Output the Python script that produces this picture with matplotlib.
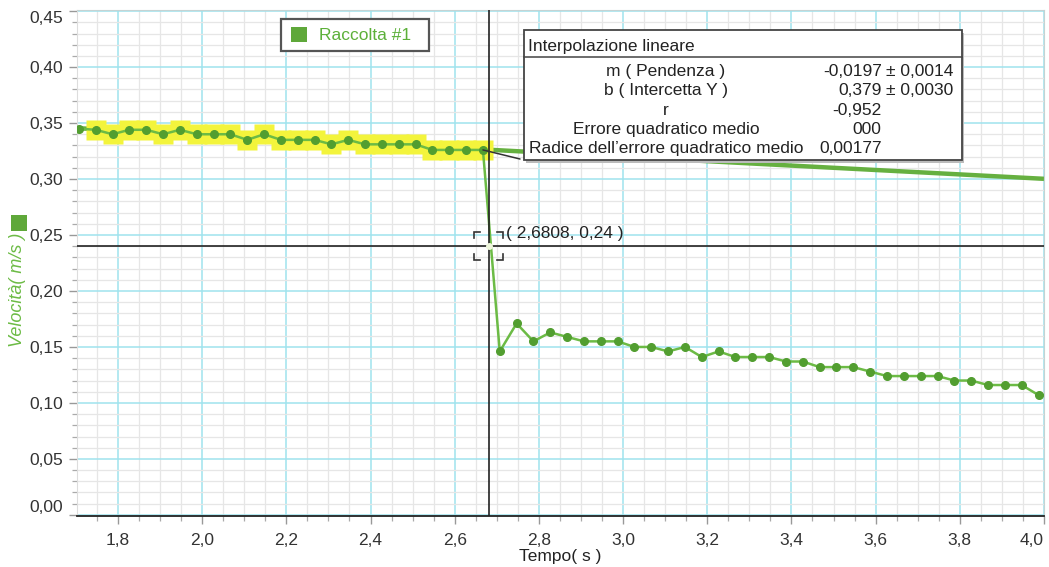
import matplotlib
matplotlib.use('Agg')
import matplotlib.pyplot as plt
from matplotlib.patches import Rectangle
from matplotlib.ticker import MultipleLocator, FuncFormatter

# dati
tempo = [1.707, 1.747, 1.787, 1.827, 1.867, 1.907, 1.947, 1.987, 2.027, 2.067,
         2.107, 2.147, 2.187, 2.227, 2.267, 2.307, 2.347, 2.387, 2.427, 2.467,
         2.507, 2.547, 2.587, 2.627, 2.667,
         2.707, 2.747, 2.787, 2.827, 2.867, 2.907, 2.947, 2.987, 3.027, 3.067,
         3.107, 3.147, 3.187, 3.227, 3.267, 3.307, 3.347, 3.387, 3.427, 3.467,
         3.507, 3.547, 3.587, 3.627, 3.667, 3.707, 3.747, 3.787, 3.827, 3.867,
         3.907, 3.947, 3.987, 4.027]
velocita = [0.345, 0.344, 0.340, 0.344, 0.344, 0.340, 0.344, 0.340, 0.340, 0.340,
            0.335, 0.340, 0.335, 0.335, 0.335, 0.331, 0.335, 0.331, 0.331, 0.331,
            0.331, 0.326, 0.326, 0.326, 0.326,
            0.146, 0.171, 0.155, 0.163, 0.159, 0.155, 0.155, 0.155, 0.150, 0.150,
            0.146, 0.150, 0.141, 0.146, 0.141, 0.141, 0.141, 0.137, 0.137, 0.132,
            0.132, 0.132, 0.128, 0.124, 0.124, 0.124, 0.124, 0.120, 0.120, 0.116,
            0.116, 0.116, 0.107, 0.107]
sel_da, sel_a = 1.73, 2.68
m_fit, b_fit = -0.0197, 0.379
cursore_t, cursore_v = 2.6808, 0.24

righe_fit = ['m ( Pendenza )', 'b ( Intercetta Y )', 'r',
             'Errore quadratico medio', 'Radice dell\u2019errore quadratico medio']
valori_fit = ['-0,0197', '0,379', '-0,952', '000', '0,00177']
incertezze_fit = ['\u00b1 0,0014', '\u00b1 0,0030', '', '', '']

VERDE = '#6cbb45'
VERDE_SCURO = '#529e30'
TESTO = '#222222'

plt.rcParams['font.family'] = ['Liberation Sans', 'DejaVu Sans']

W, H = 1049, 567
fig = plt.figure(figsize=(W / 100, H / 100), dpi=100)
AX_L, AX_R, AX_T, AX_B = 77, 1044, 10, 516
ax = fig.add_axes([AX_L / W, 1 - AX_B / H, (AX_R - AX_L) / W, (AX_B - AX_T) / H])


def px2ax(px, py):
    return (px - AX_L) / (AX_R - AX_L), (AX_B - py) / (AX_B - AX_T)


ax.set_xlim(1.7026, 4.0)
ax.set_ylim(-0.001, 0.451)

ax.xaxis.set_major_locator(MultipleLocator(0.2))
ax.xaxis.set_minor_locator(MultipleLocator(0.05))
ax.yaxis.set_major_locator(MultipleLocator(0.05))
ax.yaxis.set_minor_locator(MultipleLocator(0.01))
ax.xaxis.set_major_formatter(FuncFormatter(lambda v, p: f'{v:.1f}'.replace('.', ',')))
ax.yaxis.set_major_formatter(FuncFormatter(lambda v, p: f'{v:.2f}'.replace('.', ',')))

ax.grid(which='minor', color='#e6e6e6', lw=0.9)
ax.grid(which='major', color='#9fe3ee', lw=1.1)
ax.set_axisbelow(True)

ax.tick_params(which='major', length=6, width=1, color='#999999',
               labelsize=12.5, labelcolor='#333333', pad=4)
ax.tick_params(axis='x', which='major', pad=6)
ax.tick_params(which='minor', length=3.5, width=0.9, color='#aaaaaa')

for lato in ['top', 'right']:
    ax.spines[lato].set_color('#c5d3d3')
ax.spines['left'].set_color('#dddddd')
ax.spines['bottom'].set_color('#222222')
ax.spines['bottom'].set_linewidth(1.3)

# retta di interpolazione
x0, x1 = ax.get_xlim()
ax.plot([x0, x1], [m_fit * x0 + b_fit, m_fit * x1 + b_fit], color='#66b040',
        lw=3.2, solid_capstyle='butt', zorder=2)

# punti selezionati
t_sel = [t for t in tempo if sel_da <= t <= sel_a]
v_sel = [v for t, v in zip(tempo, velocita) if sel_da <= t <= sel_a]
ax.plot(t_sel, v_sel, 's', ms=14.5, color='#f3f43c', mec='none', zorder=3)

ax.plot(tempo, velocita, '-o', color=VERDE, lw=1.8, ms=5.5,
        mfc=VERDE_SCURO, mec=VERDE_SCURO, zorder=4)

# cursore
ax.axvline(cursore_t, color='#222222', lw=1.2, zorder=5)
ax.axhline(cursore_v, color='#222222', lw=1.2, zorder=5)
ax.plot([cursore_t], [cursore_v], 'o', ms=5, mfc='#eef7dc', mec='none', zorder=6)


def px_off(t, v, dx, dy):
    X, Y = ax.transData.transform((t, v))
    return ax.transData.inverted().transform((X + dx, Y + dy))


for sx in (-1, 1):
    for sy in (-1, 1):
        c = px_off(cursore_t, cursore_v, 14.5 * sx, 14 * sy)
        a = px_off(cursore_t, cursore_v, 8.5 * sx, 14 * sy)
        b = px_off(cursore_t, cursore_v, 14.5 * sx, 8 * sy)
        ax.plot([a[0], c[0], b[0]], [a[1], c[1], b[1]], color='#333333', lw=1.2,
                zorder=6, solid_joinstyle='miter')

ax.annotate(f'( {cursore_t:.4f}, {cursore_v:.2f} )'.replace('.', ','),
            xy=(cursore_t, cursore_v), xytext=(17, 13), textcoords='offset pixels',
            fontsize=12.5, color=TESTO, ha='left', va='center', zorder=7)

# riquadro interpolazione
bx0, by0 = px2ax(524, 160)
bx1, by1 = px2ax(962, 30)
ax.add_patch(Rectangle((bx0 + 0.002, by0 - 0.005), bx1 - bx0, by1 - by0,
                       transform=ax.transAxes, facecolor='#bbbbbb', edgecolor='none',
                       zorder=7, clip_on=False))
ax.add_patch(Rectangle((bx0, by0), bx1 - bx0, by1 - by0, transform=ax.transAxes,
                       facecolor='white', edgecolor='#444444', lw=1.3, zorder=8,
                       clip_on=False))
_, ysep = px2ax(0, 57)
ax.plot([bx0, bx1], [ysep, ysep], transform=ax.transAxes, color='#444444', lw=1.1,
        zorder=9)
hx, hy = px2ax(528, 47)
ax.text(hx, hy, 'Interpolazione lineare', transform=ax.transAxes, fontsize=12.5,
        color=TESTO, ha='left', va='center', zorder=9)
lx, _ = px2ax(666, 0)
vx, _ = px2ax(881.7, 0)
ux, _ = px2ax(885.5, 0)
for i, riga in enumerate(righe_fit):
    _, ry = px2ax(0, 71.7 + i * 19.2)
    ax.text(lx, ry, riga, transform=ax.transAxes, fontsize=12.5, color=TESTO,
            ha='center', va='center', zorder=9)
    ax.text(vx, ry, valori_fit[i], transform=ax.transAxes, fontsize=12.5,
            color=TESTO, ha='right', va='center', zorder=9)
    if incertezze_fit[i]:
        ax.text(ux, ry, incertezze_fit[i], transform=ax.transAxes, fontsize=12.5,
                color=TESTO, ha='left', va='center', zorder=9)

# linea di richiamo verso il riquadro
i_ult = len(t_sel)
ax.annotate('', xy=(tempo[i_ult], velocita[i_ult]), xycoords='data',
            xytext=px2ax(520, 159), textcoords='axes fraction',
            arrowprops=dict(arrowstyle='-', color='#333333', lw=1.1,
                            shrinkA=0, shrinkB=0), zorder=6)

# legenda
lx0, ly0 = px2ax(281, 51)
lx1, ly1 = px2ax(429, 19)
ax.add_patch(Rectangle((lx0, ly0), lx1 - lx0, ly1 - ly0, transform=ax.transAxes,
                       facecolor='white', edgecolor='#555555', lw=1.6, zorder=8))
qx, qy = px2ax(291, 42)
ax.add_patch(Rectangle((qx, qy), 16 / (AX_R - AX_L), 15 / (AX_B - AX_T),
                       transform=ax.transAxes, facecolor='#5fa83a', edgecolor='none',
                       zorder=9))
tx, ty = px2ax(319, 36)
ax.text(tx, ty, 'Raccolta #1', transform=ax.transAxes, fontsize=12.5,
        color='#5cb039', ha='left', va='center', zorder=9)

# etichette assi
fig.text(560 / W, 1 - 557 / H, 'Tempo( s )', fontsize=12.5, color=TESTO,
         ha='center', va='center')
fig.text(18 / W, 1 - 290 / H, 'Velocit\u00e0( m/s )', rotation=90, style='italic',
         fontsize=13, color=VERDE, ha='center', va='center')
fig.patches.append(Rectangle((11 / W, 1 - 231 / H), 16 / W, 16 / H,
                             transform=fig.transFigure, facecolor='#5fa83a',
                             edgecolor='none'))

# etichette agli estremi allineate verso l'interno
fig.canvas.draw()
for tick in ax.xaxis.get_major_ticks():
    if abs(tick.get_loc() - 4.0) < 1e-6:
        tick.label1.set_horizontalalignment('right')
for tick in ax.yaxis.get_major_ticks():
    if abs(tick.get_loc() - 0.45) < 1e-6:
        tick.label1.set_verticalalignment('top')
    elif abs(tick.get_loc()) < 1e-6:
        tick.label1.set_verticalalignment('bottom')

fig.savefig('out.png', dpi=100)
